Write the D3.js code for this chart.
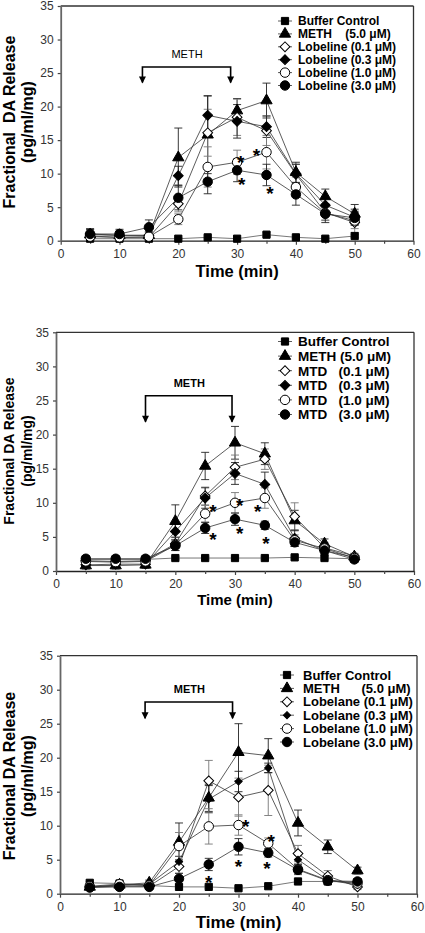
<!DOCTYPE html>
<html><head><meta charset="utf-8">
<script src="https://cdn.jsdelivr.net/npm/d3@7"></script>
<style>
body{margin:0;background:#fff;}
svg text{font-family:"Liberation Sans",Arial,Helvetica,sans-serif;}
</style></head>
<body><svg id="c" width="425" height="933"></svg>
<script>
// ---------- DATA ----------
const times = [5,10,15,20,25,30,35,40,45,50];
const xTicks = [0,10,20,30,40,50,60];
const yTicks = [0,5,10,15,20,25,30,35];

// Panel 1: Lobeline
const p1Labels = ["Buffer Control","METH    (5.0 \u03bcM)","Lobeline (0.1 \u03bcM)","Lobeline (0.3 \u03bcM)","Lobeline (1.0 \u03bcM)","Lobeline (3.0 \u03bcM)"];
const p1Buffer = [0.3,0.3,0.3,0.3,0.5,0.3,0.9,0.5,0.3,0.7];
const p1Meth   = [0.9,0.8,0.8,12.4,15.8,19.4,20.9,10.2,6.6,4.0];
const p1Low    = [0.7,0.5,0.5,5.5,16.1,18.4,16.4,9.9,4.2,2.7];
const p1Mid    = [1.0,0.8,0.8,9.7,18.7,17.8,17.0,10.0,5.3,3.5];
const p1High   = [0.6,0.5,0.6,3.2,11.0,11.7,13.2,8.0,4.1,3.0];
const p1Top    = [1.0,1.0,2.0,6.4,8.8,10.5,9.8,6.9,4.0,3.4];
const p1BufferErr = [0.2,0.2,0.2,0.2,0.2,0.2,0.3,0.2,0.2,0.2];
const p1MethErr   = [0.7,0.6,0.5,4.4,5.8,1.8,2.6,1.5,1.1,1.4];
const p1LowErr    = [0.6,0.5,0.4,1.2,3.5,2.7,2.2,1.5,1.2,1.5];
const p1MidErr    = [0.7,0.6,0.5,1.4,2.9,2.5,1.6,1.4,1.0,1.2];
const p1HighErr   = [0.5,0.4,0.4,0.8,3.0,1.8,2.5,1.5,1.0,1.2];
const p1TopErr    = [0.8,0.7,1.1,1.8,1.8,1.7,1.6,1.6,1.3,1.0];
const p1Stars = [[30.6,12.8],[33.3,13.8],[30.8,9.6],[35.6,8.2]];
const p1Meth_ = [13.9,28.9,25.9,23.6]; // start, end, bracket top, arrow tip

// Panel 2: MTD
const p2Labels = ["Buffer Control","METH (5.0 \u03bcM)","MTD   (0.1 \u03bcM)","MTD   (0.3 \u03bcM)","MTD   (1.0 \u03bcM)","MTD   (3.0 \u03bcM)"];
const p2Buffer = [1.7,1.7,1.7,1.9,1.9,1.9,1.9,2.0,1.9,1.8];
const p2Meth   = [0.8,0.8,0.9,7.3,15.4,18.8,17.2,7.4,4.0,2.1];
const p2Low    = [1.5,1.4,1.5,4.0,11.0,15.2,16.4,8.0,3.4,2.2];
const p2Mid    = [0.9,1.0,1.0,5.8,10.7,14.3,12.7,4.8,3.0,2.0];
const p2High   = [1.4,1.3,1.4,3.8,8.4,10.0,10.7,4.5,3.3,1.9];
const p2Top    = [1.8,1.8,1.8,3.7,6.3,7.6,6.7,4.2,3.0,1.7];
const p2BufferErr = [0.2,0.2,0.2,0.2,0.2,0.2,0.2,0.2,0.2,0.2];
const p2MethErr   = [0.5,0.5,0.5,2.4,2.0,2.4,1.6,1.5,0.7,0.4];
const p2LowErr    = [0.4,0.4,0.4,1.0,1.3,1.8,1.5,2.0,0.8,0.4];
const p2MidErr    = [0.4,0.4,0.4,1.2,1.5,1.6,1.8,1.2,0.7,0.4];
const p2HighErr   = [0.4,0.4,0.4,0.8,1.2,1.5,1.5,0.8,0.6,0.4];
const p2TopErr    = [0.4,0.4,0.4,0.7,0.8,0.9,0.6,0.6,0.5,0.4];
const p2Stars = [[26.3,9.9],[26.3,5.7],[30.8,10.8],[30.8,6.6],[33.8,9.9],[35.2,5.2]];
const p2Meth_ = [15.0,29.5,25.7,21.9];

// Panel 3: Lobelane
const p3Labels = ["Buffer Control","METH      (5.0 \u03bcM)","Lobelane (0.1 \u03bcM)","Lobelane (0.3 \u03bcM)","Lobelane (1.0 \u03bcM)","Lobelane (3.0 \u03bcM)"];
const p3Buffer = [1.6,1.5,1.2,1.0,1.0,0.8,1.1,1.8,1.8,1.7];
const p3Meth   = [1.0,1.3,1.6,7.6,14.1,20.8,20.3,10.4,6.9,3.4];
const p3Low    = [1.0,1.1,1.1,4.0,16.6,14.2,15.2,5.9,2.6,1.0];
const p3Mid    = [1.0,1.2,1.4,4.7,13.9,16.5,18.5,5.0,2.0,1.3];
const p3High   = [1.1,1.4,1.2,7.0,9.9,10.1,7.4,3.6,2.0,1.5];
const p3Top    = [0.9,1.0,1.0,2.2,4.3,6.9,6.0,3.5,1.9,1.8];
const p3BufferErr = [0.2,0.2,0.2,0.2,0.2,0.2,0.2,0.2,0.2,0.2];
const p3MethErr   = [0.4,0.4,0.4,2.8,2.0,4.2,2.5,1.9,1.0,0.5];
const p3LowErr    = [0.4,0.4,0.4,1.0,3.0,2.8,3.7,1.2,0.8,0.4];
const p3MidErr    = [0.3,0.3,0.3,0.8,2.0,1.5,0.7,0.7,0.5,0.3];
const p3HighErr   = [0.3,0.4,0.4,2.0,2.6,1.5,0.8,0.8,0.6,0.4];
const p3TopErr    = [0.3,0.3,0.3,0.8,0.9,1.2,0.6,0.6,0.5,0.4];
const p3Stars = [[25.0,2.8],[30.0,5.1],[34.8,4.9],[31.2,11.0],[35.5,8.8]];
const p3Meth_ = [14.3,29.0,28.2,25.8];

// ---------- STYLE ----------
const markerStyles = [
  {type:d3.symbolSquare, size:52, fill:"#000", rot:0},
  {type:d3.symbolTriangle, size:55, fill:"#000", rot:0},
  {type:d3.symbolSquare, size:48, fill:"#fff", rot:45},
  {type:d3.symbolSquare, size:48, fill:"#000", rot:45},
  {type:d3.symbolCircle, size:70, fill:"#fff", rot:0},
  {type:d3.symbolCircle, size:70, fill:"#000", rot:0}
];

const panels = [
  {box:[60.7,6,413.5,240.7], series:[p1Buffer,p1Meth,p1Low,p1Mid,p1High,p1Top],
   errs:[p1BufferErr,p1MethErr,p1LowErr,p1MidErr,p1HighErr,p1TopErr], labels:p1Labels,
   stars:p1Stars, meth:p1Meth_, methBold:false,
   legend:{x:285,y:21,dy:12.9,tx:298,fs:12}, titleFs:16.5, yTitleFs:16, yTitleY:122, yt:[15,33], xtY:277},
  {box:[56,332.3,414,571], series:[p2Buffer,p2Meth,p2Low,p2Mid,p2High,p2Top],
   errs:[p2BufferErr,p2MethErr,p2LowErr,p2MidErr,p2HighErr,p2TopErr], labels:p2Labels,
   stars:p2Stars, meth:p2Meth_, methBold:true,
   legend:{x:285,y:341.5,dy:14.6,tx:298,fs:13.5}, titleFs:15, yTitleFs:14, yTitleY:451, yt:[14,32], xtY:605},
  {box:[60,655.7,417,893.7], series:[p3Buffer,p3Meth,p3Low,p3Mid,p3High,p3Top],
   errs:[p3BufferErr,p3MethErr,p3LowErr,p3MidErr,p3HighErr,p3TopErr], labels:p3Labels,
   stars:p3Stars, meth:p3Meth_, methBold:true, smallMid:true,
   legend:{x:287,y:675,dy:13.4,tx:303,fs:13}, titleFs:17, yTitleFs:16, yTitleY:776, yt:[15,33], xtY:928}
];

const svg = d3.select("#c");

panels.forEach((P,pi) => {
  const [L,T,R,B] = P.box;
  const x = d3.scaleLinear().domain([0,60]).range([L,R]);
  const y = d3.scaleLinear().domain([0,35]).range([B,T]);
  const g = svg.append("g");

  // frame
  g.append("line").attr("x1",L).attr("x2",R).attr("y1",T).attr("y2",T).attr("stroke","#333").attr("stroke-width",1.3);
  g.append("line").attr("x1",R).attr("x2",R).attr("y1",T).attr("y2",B).attr("stroke","#333").attr("stroke-width",1.3);

  // axes
  const xa = g.append("g").attr("transform",`translate(0,${B})`)
    .call(d3.axisBottom(x).tickValues(xTicks).tickSize(4).tickSizeOuter(0).tickFormat(d3.format("d")));
  const xm = g.append("g").attr("transform",`translate(0,${B})`)
    .call(d3.axisBottom(x).tickValues(xTicks.slice(0,-1).map(d=>d+5)).tickSize(3).tickFormat(""));
  xm.select(".domain").remove();
  const ya = g.append("g").attr("transform",`translate(${L},0)`)
    .call(d3.axisLeft(y).tickValues(yTicks).tickSize(3).tickSizeOuter(0).tickFormat(d3.format("d")));
  [xa,ya,xm].forEach(a=>{
    a.selectAll("path,line").attr("stroke","#444").attr("stroke-width",1.2);
    a.selectAll("text").attr("fill","#333").style("font-size","12px");
  });
  ya.select(".domain").attr("stroke","#666").attr("stroke-width",1.8);
  xa.select(".domain").attr("stroke","#222").attr("stroke-width",1.3);
  xa.selectAll("text").attr("dy","0.85em");
  ya.selectAll("text").attr("dx","-1px");

  // axis titles
  g.append("text").attr("x",(L+R)/2 - 0).attr("y",P.xtY).attr("text-anchor","middle")
    .attr("font-weight","bold").style("font-size",P.titleFs+"px").text("Time (min)");
  g.append("text").attr("transform",`translate(${P.yt[0]},${P.yTitleY}) rotate(-90)`).attr("text-anchor","middle")
    .attr("font-weight","bold").style("font-size",P.yTitleFs+"px").style("white-space","pre").text(pi===0?"Fractional  DA Release":"Fractional DA Release");
  g.append("text").attr("transform",`translate(${P.yt[1]},${P.yTitleY}) rotate(-90)`).attr("text-anchor","middle")
    .attr("font-weight","bold").style("font-size",P.yTitleFs+"px").text("(pg/ml/mg)");

  // METH bracket
  const [ms,me,mt,mtip] = P.meth;
  g.append("path").attr("d",`M${x(ms)},${y(mtip)+0}V${y(mt)}H${x(me)}V${y(mtip)}`)
    .attr("fill","none").attr("stroke","#000").attr("stroke-width",1.6);
  [ms,me].forEach(t=>{
    g.append("path").attr("d",`M${x(t)-3.5},${y(mtip)-6}L${x(t)+3.5},${y(mtip)-6}L${x(t)},${y(mtip)+1}Z`).attr("fill","#000");
  });
  g.append("text").attr("x",x((ms+me)/2)+0.5).attr("y",y(mt)-9).attr("text-anchor","middle")
    .attr("font-weight",P.methBold?"bold":"normal").style("font-size","11px").text("METH");

  // lines
  const line = d3.line().x((d,i)=>x(times[i])).y(d=>y(d));
  P.series.forEach((s,si)=>{
    g.append("path").attr("d",line(s)).attr("fill","none").attr("stroke",si===0?"#555":"#333").attr("stroke-width",0.8);
  });
  // error bars
  P.series.forEach((s,si)=>{
    const e = P.errs[si];
    s.forEach((v,i)=>{
      const cx = x(times[i]);
      const eg = g.append("g").attr("stroke", si%2===0?"#777":"#222").attr("stroke-width",0.9);
      eg.append("line").attr("x1",cx).attr("x2",cx).attr("y1",y(v-e[i])).attr("y2",y(v+e[i]));
      [v-e[i],v+e[i]].forEach(w=>eg.append("line").attr("x1",cx-4).attr("x2",cx+4).attr("y1",y(w)).attr("y2",y(w)));
    });
  });
  // markers
  P.series.forEach((s,si)=>{
    const m = markerStyles[si];
    const size = (P.smallMid && si===3) ? 26 : m.size;
    const sym = d3.symbol().type(m.type).size(size);
    s.forEach((v,i)=>{
      g.append("path").attr("d",sym()).attr("transform",`translate(${x(times[i])},${y(v)}) rotate(${m.rot})`)
        .attr("fill",m.fill).attr("stroke","#000").attr("stroke-width",1);
    });
  });
  // stars
  P.stars.forEach(([t,v])=>{
    g.append("text").attr("x",x(t)).attr("y",y(v)).attr("text-anchor","middle").attr("dy","0.75em")
      .attr("font-weight","bold").style("font-size","19px").text("*");
  });

  // legend
  const Lg = P.legend;
  P.labels.forEach((lab,li)=>{
    const m = markerStyles[li];
    const size = (P.smallMid && li===3) ? 26 : m.size;
    const ly = Lg.y + li*Lg.dy;
    g.append("line").attr("x1",Lg.x-7).attr("x2",Lg.x+7).attr("y1",ly).attr("y2",ly).attr("stroke","#333").attr("stroke-width",0.8);
    g.append("path").attr("d",d3.symbol().type(m.type).size(size)()).attr("transform",`translate(${Lg.x},${ly}) rotate(${m.rot})`)
      .attr("fill",m.fill).attr("stroke","#000").attr("stroke-width",1);
    g.append("text").attr("x",Lg.tx).attr("y",ly).attr("dy","0.36em").attr("font-weight","bold")
      .style("font-size",Lg.fs+"px").style("white-space","pre").text(lab);
  });
});
</script></body></html>
